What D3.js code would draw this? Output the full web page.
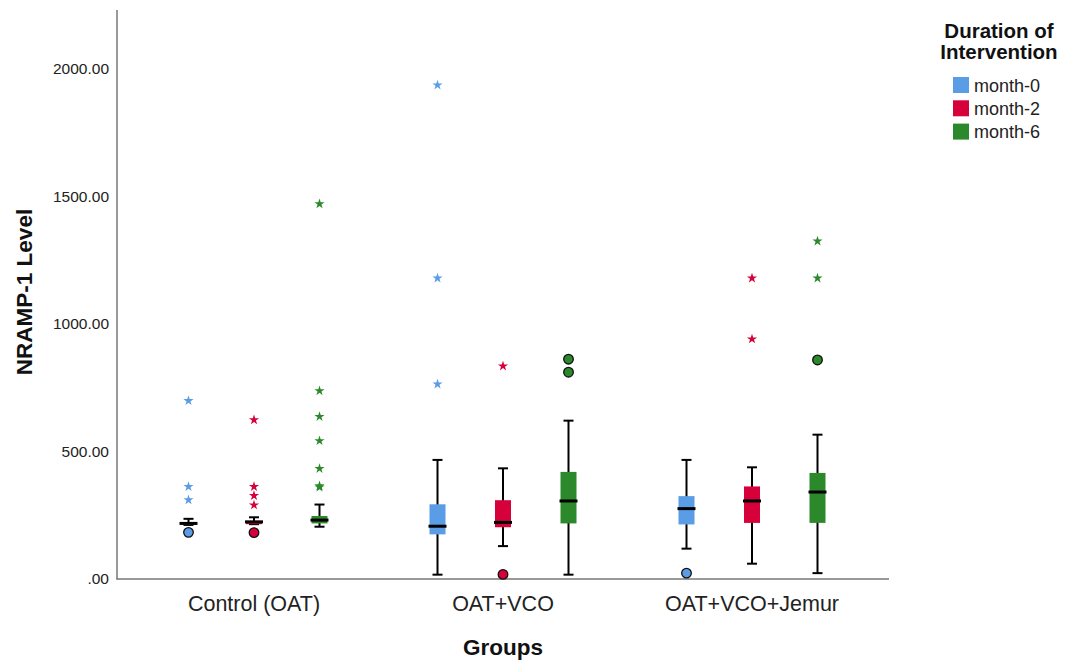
<!DOCTYPE html>
<html><head><meta charset="utf-8">
<script src="https://cdn.jsdelivr.net/npm/d3@7"></script>
<style>body{margin:0;background:#fff}svg{display:block}</style>
</head><body><svg id="c" width="1067" height="664"></svg>
<script>
const groups = ["Control (OAT)", "OAT+VCO", "OAT+VCO+Jemur"];
const durations = ["month-0", "month-2", "month-6"];
const colors = ["#5b9ce6", "#d6003a", "#2b892b"];
const yTicks = [0, 500, 1000, 1500, 2000];
// [group, duration, whiskerLow, q1, median, q3, whiskerHigh]
const boxStats = [
  [0, 0, 212, 212, 218, 222, 236],
  [0, 1, 215, 215, 224, 228, 242],
  [0, 2, 205, 218, 231, 247, 292],
  [1, 0, 17, 175, 207, 293, 467],
  [1, 1, 129, 203, 222, 309, 434],
  [1, 2, 17, 218, 306, 420, 621],
  [2, 0, 119, 214, 276, 325, 467],
  [2, 1, 60, 220, 306, 363, 438],
  [2, 2, 23, 220, 341, 416, 566]
];
// outliers (circles): [group, duration, value]
const outliers = [
  [0, 0, 183], [0, 1, 182],
  [1, 1, 18], [1, 2, 862], [1, 2, 811],
  [2, 0, 23], [2, 2, 859]
];
// extremes (stars): [group, duration, value]
const extremes = [
  [0, 0, 699], [0, 0, 362], [0, 0, 310],
  [0, 1, 624], [0, 1, 362], [0, 1, 327], [0, 1, 290],
  [0, 2, 1471], [0, 2, 738], [0, 2, 637], [0, 2, 542], [0, 2, 433], [0, 2, 365], [0, 2, 360],
  [1, 0, 1937], [1, 0, 1180], [1, 0, 764],
  [1, 1, 835],
  [2, 1, 1180], [2, 1, 941],
  [2, 2, 1325], [2, 2, 1180]
];

const svg = d3.select("#c");
const FONT = "'Liberation Sans', Arial, sans-serif";
const y = d3.scaleLinear().domain([0, 2000]).range([579, 69]);
const x0 = d3.scaleBand().domain(groups).range([129.5, 876.5]);
const x1 = d3.scalePoint().domain(durations).range([-65.5, 65.5]);
const cx = (g, d) => x0(groups[g]) + x0.bandwidth() / 2 + x1(durations[d]);

// axes
const yAxis = svg.append("g").attr("transform", "translate(117,0)")
  .call(d3.axisLeft(y).tickValues(yTicks).tickSize(0).tickPadding(8)
    .tickFormat(v => v === 0 ? ".00" : d3.format(".2f")(v)));
yAxis.select(".domain").remove();
yAxis.selectAll("text").attr("font-family", FONT).attr("font-size", 15.5).attr("fill", "#222");
svg.append("line").attr("x1", 117).attr("x2", 117).attr("y1", 10).attr("y2", 579.5)
  .attr("stroke", "#777").attr("stroke-width", 1.5);
svg.append("line").attr("x1", 116.5).attr("x2", 889).attr("y1", 579).attr("y2", 579)
  .attr("stroke", "#777").attr("stroke-width", 1.5);

const xAxis = svg.append("g").attr("transform", "translate(0,579)")
  .call(d3.axisBottom(x0).tickSize(0).tickPadding(0));
xAxis.select(".domain").remove();
xAxis.selectAll("text").attr("font-family", FONT).attr("font-size", 21.5).attr("fill", "#222")
  .attr("dy", null).attr("y", 32);

svg.append("text").attr("x", 503).attr("y", 655).attr("text-anchor", "middle")
  .attr("font-family", FONT).attr("font-weight", "bold").attr("font-size", 22.5).attr("fill", "#111").text("Groups");
svg.append("text").attr("transform", "translate(32,292) rotate(-90)").attr("text-anchor", "middle")
  .attr("font-family", FONT).attr("font-weight", "bold").attr("font-size", 22.5).attr("fill", "#111").text("NRAMP-1 Level");

// boxes
const bw = 16;
const bx = svg.append("g");
boxStats.forEach(([g, d, lo, q1, med, q3, hi]) => {
  const c = cx(g, d);
  bx.append("line").attr("x1", c).attr("x2", c).attr("y1", y(lo)).attr("y2", y(hi))
    .attr("stroke", "#000").attr("stroke-width", 2);
  [lo, hi].forEach(v => bx.append("line").attr("x1", c - 5).attr("x2", c + 5)
    .attr("y1", y(v)).attr("y2", y(v)).attr("stroke", "#000").attr("stroke-width", 2));
  bx.append("rect").attr("x", c - bw / 2).attr("y", y(q3)).attr("width", bw)
    .attr("height", Math.max(1, y(q1) - y(q3))).attr("fill", colors[d]);
  bx.append("line").attr("x1", c - bw / 2 - 1).attr("x2", c + bw / 2 + 1)
    .attr("y1", y(med)).attr("y2", y(med)).attr("stroke", "#000").attr("stroke-width", 3);
});

// outlier circles
svg.append("g").selectAll("circle").data(outliers).join("circle")
  .attr("cx", d => cx(d[0], d[1])).attr("cy", d => y(d[2])).attr("r", 4.8)
  .attr("fill", d => colors[d[1]]).attr("stroke", "#111").attr("stroke-width", 1.3);

// extreme stars
const star = d3.symbol().type(d3.symbolStar).size(32);
svg.append("g").selectAll("path").data(extremes).join("path")
  .attr("d", star)
  .attr("transform", d => `translate(${cx(d[0], d[1])},${y(d[2])})`)
  .attr("fill", d => colors[d[1]]);

// legend
const lg = svg.append("g");
lg.append("text").attr("x", 999).attr("y", 38).attr("text-anchor", "middle")
  .attr("font-family", FONT).attr("font-weight", "bold").attr("font-size", 20.5).attr("fill", "#111").text("Duration of");
lg.append("text").attr("x", 999).attr("y", 59).attr("text-anchor", "middle")
  .attr("font-family", FONT).attr("font-weight", "bold").attr("font-size", 20.5).attr("fill", "#111").text("Intervention");
durations.forEach((d, i) => {
  lg.append("rect").attr("x", 953).attr("y", 77 + i * 23.3).attr("width", 16).attr("height", 16).attr("fill", colors[i]);
  lg.append("text").attr("x", 974).attr("y", 91.5 + i * 23.3).attr("font-family", FONT)
    .attr("font-size", 18).attr("fill", "#222").text(d);
});
</script></body></html>
